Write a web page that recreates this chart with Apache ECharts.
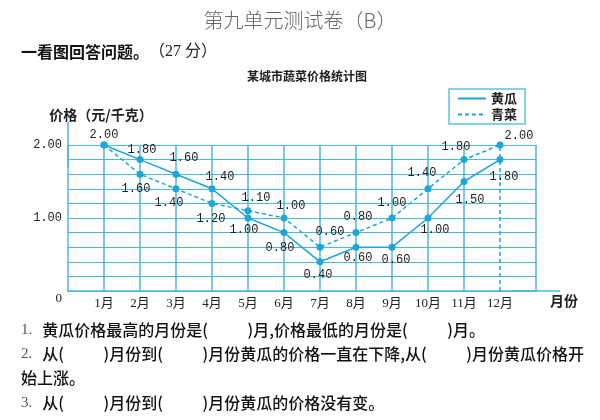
<!DOCTYPE html>
<html><head><meta charset="utf-8">
<script src="https://cdn.jsdelivr.net/npm/echarts@6/dist/echarts.min.js"></script>
<style>html,body{margin:0;padding:0;background:#fff}#c{width:600px;height:420px}</style>
</head><body><div id="c"></div>
<script>
// ---- data ----
const months = ['1月','2月','3月','4月','5月','6月','7月','8月','9月','10月','11月','12月'];
const cucumber = [2.00,1.80,1.60,1.40,1.00,0.80,0.40,0.60,0.60,1.00,1.50,1.80];
const greens   = [2.00,1.60,1.40,1.20,1.10,1.00,0.60,0.80,1.00,1.40,1.80,2.00];
const yTickValues = [0, 1, 2];
const yTickLabels = ['0', '1.00', '2.00'];

// ---- layout (label offsets relative to each point) ----
const cucOffsets = [[0,-10],[2,-10],[8,-16],[8,-12],[-4,12],[-4,15],[-2,13],[2,11],[4,13],[7,12],[6,18],[4,17]];
const grnOffsets = [null,[-4,15],[-7,14],[-1,15],[8,-13],[7,-12],[10,-15],[2,-16],[0,-15],[-6,-16],[-8,-13],[19,-9]];

const LINE = '#1ea6d8';
const GRID = '#4cb9d6';
const NUMFONT = 'Liberation Mono';
const CJK = 'Noto Sans CJK SC';

function buildData(vals, offs) {
  return vals.map((v, i) => {
    const o = offs[i];
    return o ? { value: [i + 1, v], label: { offset: o } }
             : { value: [i + 1, v], label: { show: false } };
  });
}

const vLines = months.map((m, i) => i + 1).concat([months.length + 1]).map(x => ({
  xAxis: x,
  lineStyle: x === months.length
    ? { type: [4, 3], color: LINE, width: 1.5 }
    : { type: 'solid', color: GRID, width: 1.5 }
}));

const qRich = {
  n: { fontFamily: 'Liberation Serif', fontSize: 15, fontWeight: 'normal', color: '#555', lineHeight: 22 },
  t: { fontFamily: CJK, fontSize: 16, fontWeight: 500, color: '#111', lineHeight: 22 }
};
const blank = '           ';
const chart = echarts.init(document.getElementById('c'));
chart.setOption({
  animation: false,
  title: [
    { text: '第九单元测试卷（B）', left: 'center', top: 3,
      textStyle: { fontFamily: CJK, fontSize: 20, fontWeight: 300, color: '#666', lineHeight: 24 } },
    { text: '{b|一看图回答问题。}{n|（27 分）}', left: 16, top: 36,
      textStyle: { fontWeight: 'normal', rich: {
        b: { fontFamily: CJK, fontSize: 16, fontWeight: 'bold', color: '#111', lineHeight: 22 },
        n: { fontFamily: 'Liberation Serif, ' + CJK, fontSize: 16, fontWeight: 'normal', color: '#222', lineHeight: 22 } } } },
    { text: '某城市蔬菜价格统计图', left: 242, top: 63,
      textStyle: { fontFamily: CJK, fontSize: 12, fontWeight: 'bold', color: '#222', lineHeight: 16 } },
    { text: '{n|1.}  {t|黄瓜价格最高的月份是(' + blank + ')月,价格最低的月份是(' + blank + ')月。}', left: 16, top: 314,
      textStyle: { fontWeight: 'normal', rich: qRich } },
    { text: '{n|2.}  {t|从(' + blank + ')月份到(' + blank + ')月份黄瓜的价格一直在下降,从(' + blank + ')月份黄瓜价格开}', left: 16, top: 338,
      textStyle: { fontWeight: 'normal', rich: qRich } },
    { text: '始上涨。', left: 16, top: 362,
      textStyle: { fontFamily: CJK, fontSize: 16, fontWeight: 500, color: '#111', lineHeight: 22 } },
    { text: '{n|3.}  {t|从(' + blank + ')月份到(' + blank + ')月份黄瓜的价格没有变。}', left: 16, top: 387,
      textStyle: { fontWeight: 'normal', rich: qRich } }
  ],
  legend: {
    data: ['黄瓜', '青菜'],
    orient: 'vertical', left: 449, top: 89,
    itemWidth: 28, itemHeight: 12, itemGap: 3,
    padding: [3, 8, 3, 8],
    borderColor: '#5bc3dd', borderWidth: 1.5,
    itemStyle: { opacity: 0 },
    textStyle: { fontFamily: CJK, fontSize: 13, fontWeight: 'bold', color: '#222' }
  },
  grid: { left: 68, right: 64, top: 145, bottom: 129, containLabel: false },
  xAxis: {
    type: 'value', min: 0, max: months.length + 1, interval: 1,
    name: '月份', nameLocation: 'end', nameGap: 14,
    nameTextStyle: { fontFamily: CJK, fontSize: 14, fontWeight: 'bold', color: '#222',
      align: 'left', verticalAlign: 'top', padding: [3, 0, 0, 0] },
    axisLine: { show: true, lineStyle: { color: GRID, width: 1.5 },
      symbol: ['none', 'rect'], symbolSize: [1.5, 48] },
    axisTick: { show: false },
    splitLine: { show: false },
    axisLabel: {
      margin: 6, fontFamily: 'Liberation Serif, ' + CJK, fontSize: 13, color: '#222',
      formatter: v => (v >= 1 && v <= months.length) ? months[v - 1] : ''
    }
  },
  yAxis: {
    type: 'value', min: 0, max: 2, interval: 0.2,
    name: '价格（元/千克）', nameLocation: 'end', nameGap: 30,
    nameTextStyle: { fontFamily: CJK, fontSize: 14, fontWeight: 'bold', color: '#222',
      align: 'center', verticalAlign: 'middle', padding: [0, 0, 0, 66] },
    axisLine: { show: true, lineStyle: { color: GRID, width: 1.5 },
      symbol: ['none', 'rect'], symbolSize: [1.5, 46] },
    axisTick: { show: false },
    splitLine: { show: true, lineStyle: { color: GRID, width: 1 } },
    axisLabel: {
      margin: 6, fontFamily: NUMFONT, fontSize: 12, color: '#222',
      formatter: v => {
        const k = yTickValues.findIndex(t => Math.abs(t - v) < 1e-6);
        if (k < 0) return '';
        return k === 0 ? '{z|' + yTickLabels[k] + '}' : yTickLabels[k];
      },
      rich: { z: { fontFamily: 'Liberation Serif', fontSize: 13, color: '#222', padding: [16, 0, 0, 0] } }
    }
  },
  series: [
    {
      name: '黄瓜', type: 'line', data: buildData(cucumber, cucOffsets),
      symbol: 'circle', symbolSize: 7,
      lineStyle: { color: LINE, width: 1.5, type: 'solid' },
      itemStyle: { color: LINE },
      label: { show: true, position: 'inside', fontFamily: NUMFONT, fontSize: 12, color: '#222',
        formatter: p => p.value[1].toFixed(2) },
      markLine: { silent: true, symbol: 'none', label: { show: false }, data: vLines, z: 1 },
      z: 3
    },
    {
      name: '青菜', type: 'line', data: buildData(greens, grnOffsets),
      symbol: 'circle', symbolSize: 7,
      lineStyle: { color: LINE, width: 1.5, type: [4, 3] },
      itemStyle: { color: LINE },
      label: { show: true, position: 'inside', fontFamily: NUMFONT, fontSize: 12, color: '#222',
        formatter: p => p.value[1].toFixed(2) },
      z: 3
    }
  ]
});
</script></body></html>
